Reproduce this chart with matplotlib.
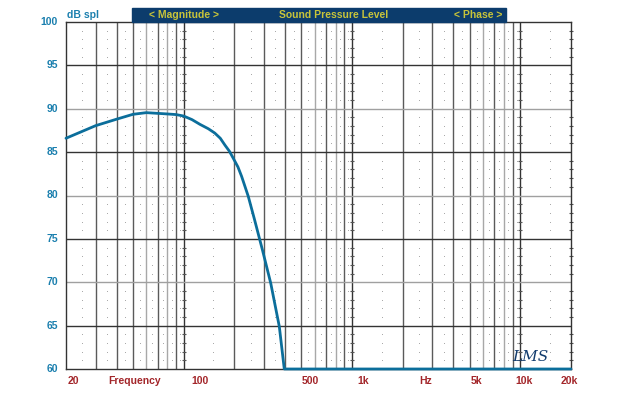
import matplotlib
matplotlib.use("Agg")
import matplotlib.pyplot as plt
import numpy as np
from matplotlib.patches import Rectangle

# ---- data ----
freq_hz = [20, 30, 40, 50, 60, 70, 80, 90, 100, 112, 125, 140, 153, 165, 176, 187, 197,
           210, 221, 242, 263, 294, 329, 370, 396, 1000, 10000, 20000]
spl_db = [86.6, 88.05, 88.8, 89.36, 89.55, 89.47, 89.4, 89.33, 89.16, 88.75, 88.2, 87.7,
          87.2, 86.6, 85.8, 85.1, 84.3, 83.3, 82.2, 79.9, 77.3, 73.7, 69.9, 64.9, 60.0,
          60.0, 60.0, 60.0]

y_ticks = [60, 65, 70, 75, 80, 85, 90, 95, 100]
x_labels = ["20", "Frequency", "100", "500", "1k", "Hz", "5k", "10k", "20k"]
x_label_px = [73, 135, 200, 310, 363, 426, 477, 524, 569]

W, H = 618, 395
fig = plt.figure(figsize=(W / 100, H / 100), dpi=100)
fig.patch.set_facecolor("white")
L, R, T, B = 66, 571, 22, 369
ax = fig.add_axes([L / W, 1 - B / H, (R - L) / W, (B - T) / H])
ax.set_xscale("log")
ax.set_xlim(20, 20000)
ax.set_ylim(60, 100)
ax.set_xticks([])
ax.set_yticks([])
ax.minorticks_off()
for s in ax.spines.values():
    s.set_color("#333333")
    s.set_linewidth(1.0)

# vertical grid lines
for d in [10, 100, 1000, 10000]:
    for m in range(1, 10):
        f = m * d
        if f <= 20 or f >= 20000:
            continue
        if m == 1:
            c = "#333333"
        elif m in (6, 8):
            c = "#a8a8a8"
        else:
            c = "#5a5a5a"
        ax.axvline(f, color=c, lw=1.0, zorder=1)

# horizontal grid lines
for v in y_ticks[1:-1]:
    c = "#a0a0a0" if v % 10 == 0 else "#333333"
    ax.axhline(v, color=c, lw=1.0, zorder=1)

# dot grid
dot_x = []
for d in [10, 100, 1000, 10000]:
    for m in range(1, 10):
        f = (m + 0.5) * d
        if 20 < f < 20000:
            dot_x.append(f)
dot_y = [v for v in range(61, 100) if v % 5 != 0]
DX, DY = np.meshgrid(dot_x, dot_y)
ax.scatter(DX.ravel(), DY.ravel(), s=0.5, color="#a5a5a5", lw=0, zorder=1)

# small ticks on decade lines and right border
for f in [100, 1000, 10000, 20000]:
    ax.plot([f] * len(dot_y), dot_y, ls="none", marker="_", ms=2.5,
            mew=0.8, color="#555555", zorder=2, clip_on=False)

# curve
ax.plot(freq_hz, spl_db, color="#0b6e9b", lw=2.0, zorder=5, clip_on=False,
        solid_joinstyle="round", solid_capstyle="round")

def px(x, y):
    return x / W, 1 - y / H

blue = "#1a7fae"
red = "#a3262a"
for v in y_ticks:
    yy = T + (100 - v) / 40 * (B - T)
    fig.text(*px(58, yy), str(v), ha="right", va="center", color=blue,
             fontsize=7.5, fontweight="bold", family="Liberation Sans")

fig.text(*px(67, 15), "dB spl", ha="left", va="center", color=blue,
         fontsize=7.5, fontweight="bold", family="Liberation Sans")

for lab, xp in zip(x_labels, x_label_px):
    fig.text(*px(xp, 381), lab, ha="center", va="center", color=red,
             fontsize=7.5, fontweight="bold", family="Liberation Sans")

# banner
fig.patches.append(Rectangle(px(132, 21.5), (506 - 132) / W, 13.5 / H,
                             transform=fig.transFigure, color="#0c3c6c", zorder=0))
yel = "#c8c43a"
for txt, xp in [("< Magnitude >", 184), ("Sound Pressure Level", 334), ("< Phase >", 478)]:
    fig.text(*px(xp, 15), txt, ha="center", va="center", color=yel,
             fontsize=7.5, fontweight="bold", family="Liberation Sans")

# logo
fig.text(*px(530, 357), "LMS", ha="center", va="center", color="#123c6e",
         fontsize=11, style="italic", family="DejaVu Serif")

fig.savefig("out.png", dpi=100)
